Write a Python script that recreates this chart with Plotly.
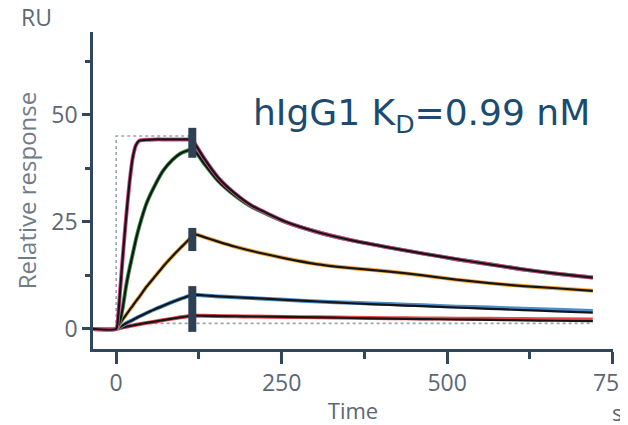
import plotly.graph_objects as go

# time grid (s)
t = [-35, 0, 3, 6, 10, 15, 20, 25, 30, 35, 46, 60, 71, 85, 97, 108, 115,
     119, 134, 154, 180, 205, 255, 305, 356, 413, 464, 514, 564, 615, 665, 720]

# responses (RU)
pink = [0, 0, 3, 9, 17, 26, 34, 40, 43, 44, 44.2, 44.3, 44.3, 44.3, 44.3, 44.3, 44.3,
        43.3, 39.6, 35.4, 31.6, 28.8, 25.1, 22.6, 20.7, 19.0, 17.6, 16.3, 15.1, 13.9, 12.9, 12.0]
green = [0, 0, 0.8, 2, 5, 10, 14, 17.5, 21, 24, 29.4, 34, 37, 39.5, 41, 41.7, 42,
         41.6, 38.4, 34.6, 31.1, 28.5, 25.0, 22.6, 20.7, 19.0, 17.6, 16.3, 15.1, 13.9, 12.9, 12.0]
orange = [0, 0, 0.6, 1.3, 2.2, 3.3, 4.4, 5.4, 6.5, 7.5, 9.9, 12.5, 14.6, 17, 18.9, 20.6, 21.8,
          22.1, 21.4, 20.4, 19.2, 18.2, 16.5, 15.1, 14.2, 13.4, 12.5, 11.5, 10.7, 10.0, 9.5, 8.9]
blue = [0, 0, 0.25, 0.5, 0.85, 1.3, 1.7, 2.1, 2.5, 2.9, 3.7, 4.7, 5.4, 6.3, 7.0, 7.6, 7.9,
        8.0, 7.8, 7.6, 7.4, 7.2, 6.8, 6.4, 6.1, 5.8, 5.5, 5.2, 5.0, 4.7, 4.5, 4.2]
blue_fit = [0, 0, 0.25, 0.5, 0.85, 1.3, 1.7, 2.1, 2.5, 2.9, 3.7, 4.7, 5.4, 6.3, 7.0, 7.6, 7.9,
            8.0, 7.8, 7.6, 7.4, 7.2, 6.8, 6.4, 6.0, 5.6, 5.3, 5.0, 4.7, 4.4, 4.1, 3.8]
red = [0, 0, 0.1, 0.2, 0.35, 0.5, 0.65, 0.8, 0.95, 1.1, 1.4, 1.75, 2.05, 2.4, 2.7, 2.95, 3.05,
       3.1, 3.05, 3.0, 2.95, 2.9, 2.8, 2.7, 2.6, 2.5, 2.45, 2.4, 2.35, 2.3, 2.25, 2.2]
red_fit = [0, 0, 0.1, 0.2, 0.35, 0.5, 0.65, 0.8, 0.95, 1.1, 1.4, 1.75, 2.05, 2.4, 2.7, 2.95, 3.05,
           3.1, 3.05, 3.0, 2.95, 2.9, 2.8, 2.7, 2.55, 2.4, 2.3, 2.2, 2.1, 2.0, 1.9, 1.8]

# reference (dotted) outline
ref_top_t = [0, 0, 115]
ref_top_y = [0, 45.1, 45.1]
ref_bot_t = [40, 720]
ref_bot_y = [1.3, 1.3]

# report-point bars at end of association
bar_t = 115
bars = [(40, 47), (18.2, 23.6), (-0.7, 10)]

x_ticks = [0, 250, 500, 750]
x_minor = [125, 375, 625]
y_ticks = [0, 25, 50]
y_minor = [12.5, 37.5, 62.5]

AX = "#33475a"
TXT = "#5b6874"

fig = go.Figure()

fig.add_trace(go.Scatter(x=ref_top_t, y=ref_top_y, mode="lines",
                         line=dict(color="#9aa3ab", width=1.6, dash="dot")))
fig.add_trace(go.Scatter(x=ref_bot_t, y=ref_bot_y, mode="lines",
                         line=dict(color="#9aa3ab", width=1.6, dash="dot")))

series = [(red, red_fit, "#e4484c"), (blue, blue_fit, "#4a8ccc"),
          (orange, orange, "#f2a53a"), (green, green, "#3f9a4a"),
          (pink, pink, "#d04a8c")]
for data, fit, col in series:
    fig.add_trace(go.Scatter(x=t, y=data, mode="lines",
                             line=dict(color=col, width=4, shape="spline", smoothing=0.5)))
    fig.add_trace(go.Scatter(x=t, y=fit, mode="lines",
                             line=dict(color="#151515", width=2.2, shape="spline", smoothing=0.5)))

for y0, y1 in bars:
    fig.add_trace(go.Scatter(x=[bar_t, bar_t], y=[y0, y1], mode="lines",
                             line=dict(color="#2e4154", width=8)))

# page body adds an 8px margin, so the figure is sized to fit the 628x425 window
fig.update_layout(
    width=620, height=417,
    margin=dict(l=85, r=15, t=24, b=76),
    paper_bgcolor="white", plot_bgcolor="white",
    showlegend=False,
    font=dict(family="Open Sans", color=TXT, size=22),
)
fig.update_xaxes(
    range=[-35, 750.5], tickvals=x_ticks, ticktext=[str(v) for v in x_ticks],
    automargin=False, ticklabeloverflow="allow",
    showgrid=False, zeroline=False,
    showline=True, linecolor=AX, linewidth=2.5,
    ticks="outside", ticklen=12, tickwidth=2.5, tickcolor=AX,
    minor=dict(tickvals=x_minor, ticks="outside", ticklen=7, tickwidth=2.5, tickcolor=AX),
    tickfont=dict(size=23, color=TXT),
    title=dict(text="Time", font=dict(size=22, color=TXT), standoff=8),
)
fig.update_yaxes(
    range=[-4.7, 69.4], tickvals=y_ticks, ticktext=[str(v) for v in y_ticks],
    automargin=False, ticklabeloverflow="allow",
    showgrid=False, zeroline=False,
    showline=True, linecolor=AX, linewidth=2.5,
    ticks="outside", ticklen=8, tickwidth=2.5, tickcolor=AX,
    minor=dict(tickvals=y_minor, ticks="outside", ticklen=5, tickwidth=2.5, tickcolor=AX),
    tickfont=dict(size=23, color=TXT),
    title=dict(text="Relative response", font=dict(size=24, color="#6f7c88"), standoff=8),
)

fig.add_annotation(text="RU", xref="paper", yref="paper", x=-0.108, y=1.047,
                   xanchor="center", yanchor="middle", showarrow=False,
                   font=dict(size=23, color=TXT))
fig.add_annotation(text="s", xref="paper", yref="paper", x=1.008, y=-0.2,
                   xanchor="center", yanchor="middle", showarrow=False,
                   font=dict(size=22, color=TXT))
fig.add_annotation(text="hIgG1 K<sub>D</sub>=0.99 nM", xref="paper", yref="paper",
                   x=0.631, y=0.738, xanchor="center", yanchor="middle", showarrow=False,
                   font=dict(family="DejaVu Sans", size=36, color="#1b4b70"))

fig.write_html("out.html")
